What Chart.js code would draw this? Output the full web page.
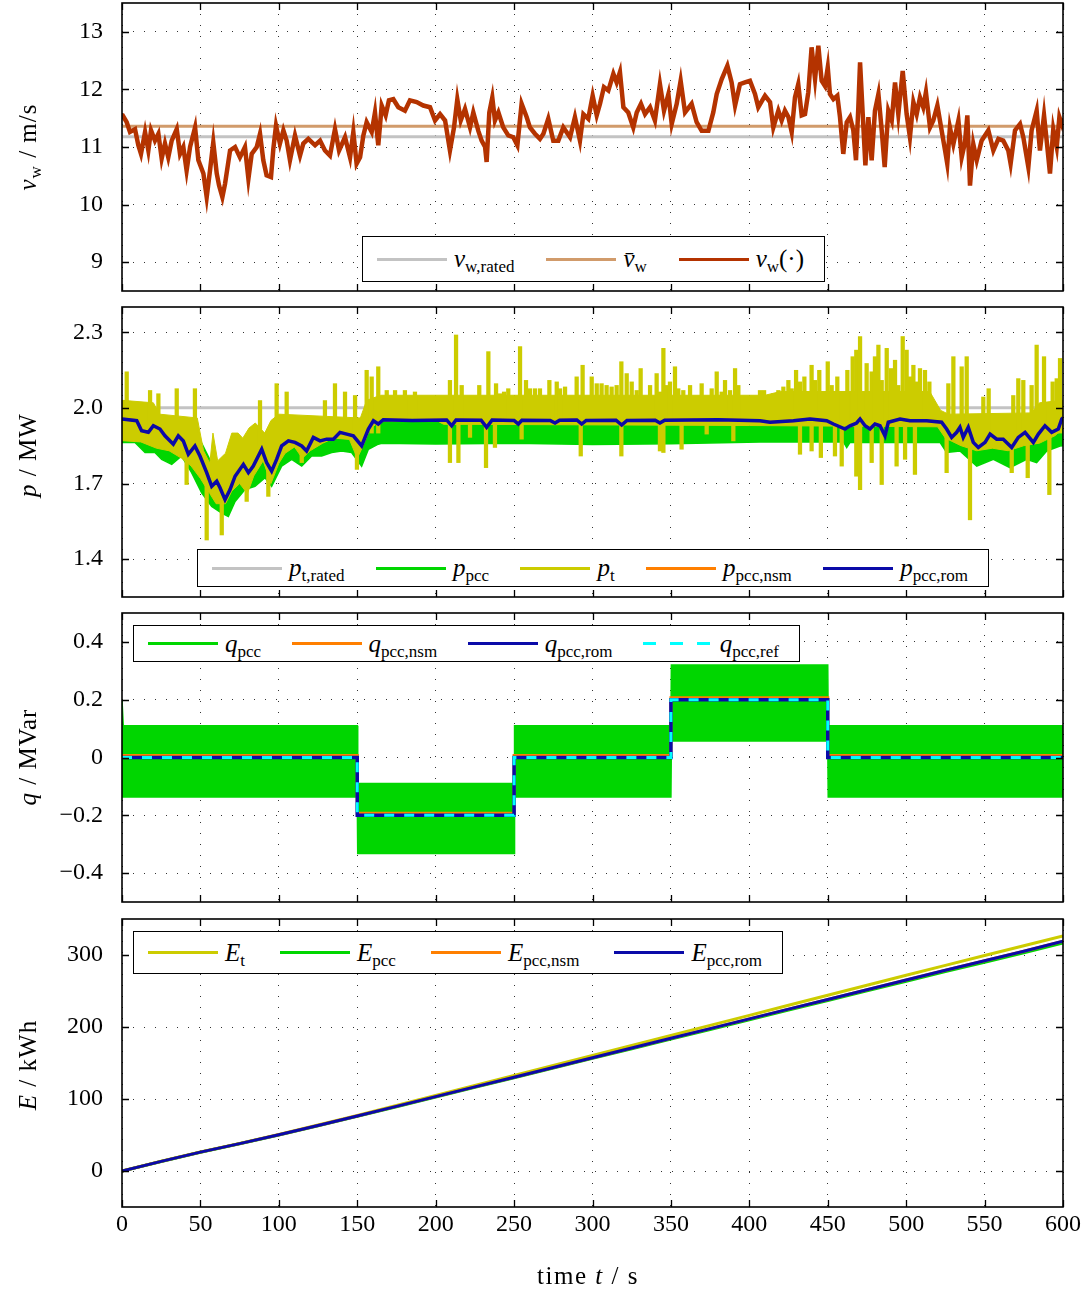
<!DOCTYPE html>
<html>
<head>
<meta charset="utf-8">
<title>Wind turbine and PCC time series</title>
<script src="https://cdn.jsdelivr.net/npm/chart.js@4.4.1/dist/chart.umd.min.js"></script>
<style>
  body { margin: 0; background: #fff; }
  #page { position: relative; width: 1089px; height: 1293px; overflow: hidden; font-family: 'Liberation Serif', 'DejaVu Serif', serif; color: #000; }
  .panel { position: absolute; left: 0; width: 1089px; }
  .panel canvas { display: block; }
  .ytitle { position: absolute; white-space: nowrap; font-size: 25px; letter-spacing: 1px; transform: translate(-50%, -50%) rotate(-90deg); }
  .xtitle { position: absolute; white-space: nowrap; font-size: 25px; letter-spacing: 1.5px; transform: translate(-50%, -50%); }
  .legend { position: absolute; display: flex; align-items: center; justify-content: space-between; border: 1.5px solid #000; background: #fff; padding: 0 20px 0 14px; box-sizing: border-box; }
  .legend .item { display: flex; align-items: center; }
  .legend .swatch { display: inline-block; width: 70px; height: 3px; margin-right: 7px; }
  .legend .lbl { font-size: 25px; white-space: nowrap; }
  sub { font-size: 17px; vertical-align: -5px; line-height: 0; font-style: normal; }
</style>
</head>
<body>
<div id="page">
  <div class="panel" style="top:0px"><canvas id="cv" width="1089" height="300"></canvas></div>
  <div class="panel" style="top:300px"><canvas id="cp" width="1089" height="305"></canvas></div>
  <div class="panel" style="top:605px"><canvas id="cq" width="1089" height="305"></canvas></div>
  <div class="panel" style="top:910px"><canvas id="ce" width="1089" height="383"></canvas></div>

  <div class="ytitle" style="left:28px;top:147px"><i>v</i><sub>w</sub> / m/s</div>
  <div class="ytitle" style="left:28px;top:455px"><i>p</i> / MW</div>
  <div class="ytitle" style="left:28px;top:757px"><i>q</i> / MVar</div>
  <div class="ytitle" style="left:28px;top:1065px"><i>E</i> / kWh</div>
  <div class="xtitle" style="left:588px;top:1276px">time <i>t</i> / s</div>

  <div class="legend" id="lv" style="left:362px;top:236px;width:463px;height:46px"></div>
  <div class="legend" id="lp" style="left:197px;top:549px;width:792px;height:38px"></div>
  <div class="legend" id="lq" style="left:133px;top:625px;width:667px;height:37px"></div>
  <div class="legend" id="le" style="left:133px;top:931px;width:650px;height:43px"></div>
</div>

<script>
// ---- axis ticks ----
const timeTicks = [0, 50, 100, 150, 200, 250, 300, 350, 400, 450, 500, 550, 600];
const vwTicks = [9, 10, 11, 12, 13];
const pTicks = [1.4, 1.7, 2.0, 2.3];
const qTicks = [-0.4, -0.2, 0, 0.2, 0.4];
const eTicks = [0, 100, 200, 300];

// ---- wind speed (m/s) ----
const spanTime = [0, 600];
const windRated = [11.18, 11.18];
const windMean = [11.36, 11.36];
const windTime = [
  0, 3.0, 5.1, 8.3, 10.4, 12.1, 14.7, 16.8, 18.5, 21.0,
  23.2, 25.3, 27.4, 29.5, 31.7, 34.9, 37.0, 39.1, 41.2, 43.4,
  46.6, 48.7, 51.9, 54.0, 56.1, 58.2, 60.4, 61.9, 64.0, 65.7,
  68.9, 72.1, 75.2, 78.4, 80.6, 82.7, 85.9, 88.0, 90.1, 92.2,
  95.0, 96.5, 98.2, 100.7, 102.9, 105.0, 107.1, 110.3, 113.5, 115.6,
  118.8, 123.1, 126.3, 129.4, 132.6, 135.8, 138.4, 142.2, 145.4, 147.5,
  149.6, 151.8, 153.9, 156.0, 159.2, 161.3, 163.4, 165.6, 168.1, 170.2,
  173.0, 176.2, 180.4, 183.6, 187.9, 192.1, 196.4, 199.6, 202.8, 206.0,
  209.1, 211.7, 213.8, 216.0, 218.7, 221.9, 224.0, 227.2, 229.3, 231.5,
  232.5, 234.2, 236.1, 237.8, 240.0, 243.1, 246.3, 249.5, 252.1, 254.8,
  258.0, 260.1, 263.3, 266.5, 268.7, 271.8, 275.0, 278.2, 281.4, 285.7,
  288.8, 292.0, 294.2, 297.3, 300.1, 302.7, 304.8, 307.3, 310.1, 313.3,
  315.4, 317.5, 319.7, 322.8, 326.0, 328.2, 330.9, 333.5, 336.7, 339.8,
  343.0, 345.6, 348.4, 350.5, 353.7, 356.2, 359.0, 363.2, 366.4, 369.6,
  373.9, 377.0, 379.2, 382.4, 386.0, 388.7, 390.9, 394.0, 397.2, 400.4,
  403.6, 405.7, 410.0, 413.2, 415.3, 418.5, 420.6, 422.7, 424.9, 427.0,
  429.1, 431.2, 433.4, 435.5, 437.6, 439.7, 441.9, 444.0, 446.1, 448.2,
  450.0, 451.4, 453.6, 456.1, 457.8, 459.9, 462.1, 464.2, 466.3, 468.0,
  469.5, 470.6, 472.3, 474.0, 475.9, 478.0, 480.1, 482.3, 484.4, 486.3,
  488.6, 490.8, 492.9, 495.0, 497.8, 500.3, 502.4, 504.6, 506.7, 508.8,
  510.9, 512.6, 515.2, 517.3, 519.9, 522.6, 524.8, 526.2, 527.9, 530.1,
  533.3, 535.4, 537.5, 539.0, 540.7, 542.8, 545.0, 548.1, 552.4, 555.6,
  558.8, 561.9, 565.1, 566.6, 569.4, 572.6, 574.7, 577.9, 580.0, 583.2,
  585.3, 587.9, 589.6, 591.7, 593.8, 596.0, 597.7, 599.2, 600
];
const windSpeed = [
  11.57, 11.43, 11.26, 11.31, 11.03, 10.88, 11.26, 10.94, 11.29, 11.11,
  11.23, 10.80, 11.06, 10.82, 11.11, 11.31, 10.88, 11.00, 10.59, 11.00,
  11.34, 10.77, 10.54, 10.13, 10.59, 11.08, 10.54, 10.33, 10.13, 10.36,
  10.94, 11.00, 10.82, 11.00, 10.45, 10.88, 11.00, 11.23, 10.77, 10.51,
  10.48, 10.97, 11.37, 11.06, 11.29, 11.11, 10.77, 11.20, 10.85, 11.06,
  11.14, 11.03, 11.11, 10.94, 10.85, 11.31, 10.94, 11.17, 10.82, 11.26,
  10.71, 10.82, 11.20, 11.43, 11.26, 11.60, 11.03, 11.72, 11.55, 11.81,
  11.83, 11.69, 11.63, 11.81, 11.78, 11.72, 11.69, 11.46, 11.57, 11.46,
  10.94, 11.34, 11.83, 11.46, 11.66, 11.34, 11.60, 11.28, 11.11, 11.00,
  10.74, 11.60, 11.86, 11.46, 11.60, 11.34, 11.20, 11.17, 11.03, 11.75,
  11.52, 11.34, 11.23, 11.14, 11.23, 11.49, 11.11, 11.11, 11.34, 11.17,
  11.52, 11.11, 11.57, 11.49, 11.89, 11.55, 11.75, 12.04, 11.98, 12.27,
  12.12, 12.30, 11.69, 11.60, 11.34, 11.60, 11.75, 11.57, 11.69, 11.46,
  12.09, 11.63, 11.92, 11.40, 11.75, 12.15, 11.60, 11.75, 11.43, 11.28,
  11.28, 11.60, 11.92, 12.18, 12.41, 12.12, 11.72, 12.09, 12.12, 12.15,
  11.92, 11.69, 11.89, 11.78, 11.34, 11.63, 11.46, 11.63, 11.52, 11.26,
  11.86, 12.09, 11.55, 11.57, 11.95, 12.73, 12.18, 12.76, 12.15, 12.06,
  12.38, 11.92, 11.83, 11.89, 11.52, 10.88, 11.43, 11.52, 11.29, 10.77,
  11.69, 12.47, 11.57, 10.68, 11.52, 10.77, 11.63, 11.92, 11.29, 10.65,
  11.63, 11.46, 12.12, 11.57, 12.32, 11.57, 11.17, 11.78, 11.57, 11.86,
  11.69, 11.95, 11.34, 11.46, 11.72, 11.29, 10.94, 10.71, 11.34, 11.05,
  11.46, 10.82, 11.08, 11.55, 10.33, 11.05, 10.77, 11.11, 11.29, 10.94,
  11.14, 11.11, 10.94, 10.71, 11.29, 11.40, 11.17, 10.65, 11.29, 11.63,
  10.94, 11.55, 11.11, 10.54, 11.31, 11.00, 11.52, 11.40, 11.5
];

// ---- active power (MW) ----
const pRated = [2.0, 2.0];
const pRomTime = [
  0, 9.4, 12.5, 16.8, 20.0, 24.2, 27.4, 32.7, 35.9, 39.1,
  42.3, 46.5, 49.7, 54.0, 57.2, 60.4, 62.5, 65.7, 68.9, 72.1,
  77.4, 80.6, 83.7, 89.1, 92.2, 95.4, 98.6, 101.8, 106.1, 110.3,
  114.6, 117.7, 122.0, 126.3, 130.5, 134.8, 139.0, 143.3, 147.5, 152.8,
  157.1, 160.3, 163.4, 166.6, 185, 207, 210.2, 213, 229, 232.5,
  236, 250, 252.7, 255, 273, 276.1, 279, 290, 293.1, 296,
  315, 318.6, 322, 340, 343.0, 346, 380, 406.8, 413.2, 428.1,
  438.7, 449.3, 453.6, 461.0, 464.2, 468.4, 470.6, 473.8, 476.9, 480.1,
  483.3, 486.5, 488.6, 496.1, 502.4, 513.1, 522.6, 525.8, 529.0, 532.2,
  534.3, 536.4, 539.6, 542.8, 546.0, 550.3, 553.5, 557.7, 561.9, 567.3,
  571.5, 575.8, 581.1, 584.3, 588.5, 592.8, 597.0, 599.2, 600
];
const pRom = [
  1.956, 1.949, 1.909, 1.903, 1.929, 1.916, 1.889, 1.856, 1.889, 1.869,
  1.816, 1.849, 1.809, 1.743, 1.689, 1.709, 1.683, 1.636, 1.676, 1.729,
  1.776, 1.743, 1.769, 1.836, 1.783, 1.749, 1.796, 1.849, 1.869, 1.863,
  1.849, 1.829, 1.883, 1.869, 1.876, 1.876, 1.903, 1.896, 1.889, 1.849,
  1.916, 1.949, 1.936, 1.953, 1.950, 1.952, 1.929, 1.952, 1.951, 1.923,
  1.952, 1.950, 1.936, 1.951, 1.950, 1.940, 1.951, 1.952, 1.936, 1.950,
  1.951, 1.932, 1.950, 1.951, 1.940, 1.951, 1.953, 1.949, 1.943, 1.949,
  1.956, 1.949, 1.936, 1.916, 1.929, 1.940, 1.956, 1.929, 1.916, 1.936,
  1.929, 1.889, 1.943, 1.956, 1.949, 1.949, 1.943, 1.916, 1.883, 1.903,
  1.923, 1.883, 1.923, 1.863, 1.843, 1.863, 1.896, 1.876, 1.876, 1.843,
  1.883, 1.903, 1.863, 1.896, 1.929, 1.903, 1.916, 1.956, 1.96
];
// the nsm result lies under the rom curve over the whole run
const pNsmTime = pRomTime;
const pNsm = pRom;

const pPccHiTime = [0, 10, 20, 30, 40, 50, 58, 66, 75, 85, 95, 105, 115, 125, 135, 145, 152, 160, 450, 460, 520, 530, 545, 560, 570, 585, 600];
const pPccHi = [2.0, 1.99, 1.97, 1.93, 1.93, 1.87, 1.77, 1.72, 1.81, 1.85, 1.83, 1.92, 1.92, 1.93, 1.95, 1.95, 1.92, 2.01, 2.01, 1.99, 1.99, 1.95, 1.91, 1.93, 1.91, 1.95, 1.99];
const pPccLoTime = [
  0, 8.3, 14.7, 21.0, 25.3, 31.7, 38.0, 44.4, 50.8, 57.2,
  63.6, 67.8, 72.1, 78.4, 84.8, 91.2, 95.4, 101.8, 108.2, 114.6,
  120.9, 127.3, 133.7, 140.1, 146.4, 152.8, 157.1, 163.4, 165.6, 200,
  250, 300, 350, 406.8, 460, 462.1, 464.2, 521.6, 525.8, 534.3,
  545.0, 555.6, 566.2, 576.8, 583.2, 589.6, 598.1, 600
];
const pPccLo = [
  1.863, 1.863, 1.823, 1.823, 1.796, 1.776, 1.809, 1.743, 1.663, 1.609,
  1.583, 1.569, 1.629, 1.676, 1.689, 1.723, 1.689, 1.769, 1.796, 1.769,
  1.809, 1.809, 1.823, 1.829, 1.823, 1.769, 1.836, 1.856, 1.860, 1.857,
  1.860, 1.855, 1.858, 1.865, 1.865, 1.843, 1.863, 1.863, 1.823, 1.829,
  1.769, 1.796, 1.763, 1.796, 1.783, 1.829, 1.849, 1.85
];

// p_t: dense band (top / bottom edge) plus the single spikes that leave it
const ptTopTime = [0, 20, 24, 48, 52, 56, 58, 61, 66, 70, 74, 77, 81, 85, 91, 95, 100, 152, 156, 165, 410, 420, 515, 522, 527, 580, 585, 600];
const ptTop = [2.03, 2.02, 1.975, 1.96, 1.83, 1.78, 1.90, 1.79, 1.82, 1.90, 1.90, 1.88, 1.92, 1.94, 1.90, 1.95, 1.975, 1.96, 2.03, 2.05, 2.05, 2.065, 2.065, 1.99, 1.975, 1.98, 2.02, 2.03];
const ptBotTime = [
  0, 12, 22, 30, 38, 44, 50, 56, 60, 66,
  70, 75, 80, 84, 90, 95, 100, 104, 110, 115,
  120, 128, 135, 145, 150, 153, 158, 165, 200, 205,
  400, 520, 525, 535, 545, 555, 565, 575, 585, 595, 600
];
const ptBot = [
  1.87, 1.865, 1.84, 1.83, 1.80, 1.77, 1.72, 1.66, 1.62, 1.62,
  1.67, 1.70, 1.66, 1.73, 1.79, 1.70, 1.78, 1.82, 1.845, 1.80,
  1.83, 1.86, 1.88, 1.875, 1.80, 1.84, 1.915, 1.95, 1.952, 1.935,
  1.93, 1.925, 1.88, 1.85, 1.83, 1.84, 1.83, 1.85, 1.86, 1.89, 1.92
];
const ptSpikeTime = [
  3.0, 17.9, 23.2, 34.9, 41.2, 46.5, 54.0, 63.6, 79.5, 88.0,
  93.3, 98.6, 105.0, 114.6, 129.4, 135.8, 142.2, 148.6, 149.8, 156.0,
  159.2, 163.4, 168.8, 174.1, 180.4, 186.8, 209.1, 213.0, 214.5, 216.6,
  221.9, 227.8, 232.1, 233.6, 237.8, 238.5, 241.0, 243.6, 246.3, 253.8,
  254.8, 257.6, 260.1, 263.3, 266.5, 272.5, 277.2, 279.3, 282.5, 289.9,
  292.5, 293.7, 299.5, 302.7, 305.8, 309.0, 312.2, 315.4, 318.4, 321.8,
  325.0, 328.2, 330.7, 336.7, 340.9, 343.0, 345.2, 347.3, 349.4, 352.6,
  354.7, 356.8, 357.9, 362.2, 369.6, 372.8, 376.0, 379.2, 382.4, 384.5,
  387.7, 389.8, 390.9, 393.0, 406.8, 409.4, 415.3, 418.5, 421.7, 424.9,
  427.0, 429.8, 432.3, 435.1, 439.7, 441.9, 444.6, 445.6, 450.0, 452.5,
  454.6, 456.1, 458.9, 462.5, 465.9, 468.2, 470.6, 474.8, 478.0, 480.1,
  482.3, 484.4, 487.6, 490.3, 492.9, 493.9, 495.0, 497.8, 499.3, 500.3,
  502.4, 504.6, 505.6, 506.7, 508.8, 512.0, 514.8, 525.8, 526.9, 530.1,
  535.4, 538.6, 540.7, 549.2, 552.6, 567.3, 568.3, 571.5, 574.7, 577.5,
  580.0, 583.2, 587.9, 591.3, 593.4, 596.0, 598.1
];
const ptSpikeLo = [
  1.90, 1.90, 1.90, 1.90, 1.696, 1.90, 1.476, 1.496, 1.629, 1.85,
  1.649, 1.90, 1.90, 1.783, 1.90, 1.90, 1.90, 1.90, 1.756, 1.90,
  1.90, 1.90, 1.95, 1.95, 1.95, 1.95, 1.783, 1.95, 1.783, 1.95,
  1.883, 1.95, 1.763, 1.95, 1.843, 1.95, 1.95, 1.95, 1.95, 1.95,
  1.876, 1.95, 1.95, 1.95, 1.95, 1.95, 1.95, 1.95, 1.95, 1.95,
  1.809, 1.95, 1.95, 1.95, 1.95, 1.95, 1.95, 1.95, 1.809, 1.95,
  1.95, 1.95, 1.95, 1.95, 1.95, 1.829, 1.823, 1.95, 1.95, 1.95,
  1.95, 1.836, 1.95, 1.95, 1.95, 1.896, 1.95, 1.95, 1.95, 1.95,
  1.95, 1.869, 1.95, 1.95, 1.95, 1.95, 1.95, 1.95, 1.95, 1.95,
  1.95, 1.95, 1.816, 1.95, 1.829, 1.95, 1.95, 1.803, 1.95, 1.95,
  1.809, 1.95, 1.769, 1.95, 1.95, 1.729, 1.676, 1.95, 1.783, 1.95,
  1.95, 1.696, 1.95, 1.95, 1.95, 1.769, 1.95, 1.95, 1.796, 1.95,
  1.95, 1.95, 1.736, 1.95, 1.95, 1.95, 1.95, 1.743, 1.90, 1.90,
  1.90, 1.90, 1.556, 1.90, 1.90, 1.743, 1.90, 1.90, 1.90, 1.723,
  1.90, 1.90, 1.90, 1.656, 1.90, 1.90, 1.90
];
const ptSpikeHi = [
  2.143, 2.069, 2.056, 2.076, 1.85, 2.076, 1.75, 1.70, 1.80, 2.029,
  1.80, 2.096, 2.063, 1.90, 2.029, 2.096, 2.063, 2.049, 1.90, 2.149,
  2.123, 2.163, 2.069, 2.069, 2.069, 2.063, 2.109, 2.289, 1.95, 2.089,
  1.95, 2.089, 1.95, 2.223, 1.95, 2.096, 2.056, 2.063, 2.076, 2.243,
  1.95, 2.109, 2.076, 2.076, 2.076, 2.109, 2.103, 2.076, 2.083, 2.123,
  1.95, 2.169, 2.123, 2.096, 2.096, 2.089, 2.083, 2.089, 2.183, 2.136,
  2.103, 2.069, 2.156, 2.089, 2.136, 2.063, 2.236, 2.089, 2.103, 2.163,
  2.076, 1.95, 2.069, 2.089, 2.096, 1.95, 2.076, 2.143, 2.063, 2.109,
  2.069, 1.95, 2.156, 2.089, 2.069, 2.069, 2.056, 2.069, 2.083, 2.109,
  2.076, 2.149, 2.103, 2.123, 2.169, 2.109, 2.149, 1.95, 2.183, 2.089,
  1.95, 2.123, 1.95, 2.149, 2.203, 2.229, 2.283, 2.176, 2.143, 2.203,
  2.249, 2.109, 2.236, 2.156, 2.189, 1.95, 2.089, 2.283, 1.95, 2.229,
  2.123, 2.169, 1.95, 2.103, 2.156, 2.149, 2.103, 1.90, 2.096, 2.203,
  2.163, 2.203, 1.90, 2.043, 2.076, 1.90, 2.049, 2.116, 2.109, 1.90,
  2.089, 2.249, 2.203, 1.90, 2.103, 2.116, 2.196
];

// ---- reactive power (MVar) ----
const qStepTime = [0, 150, 250, 350, 450, 600];
const qRef = [0, -0.2, 0, 0.2, 0, 0];
const qRom = [0, -0.2, 0, 0.2, 0, 0];
const qNsm = [0.007, -0.193, 0.007, 0.207, 0.007, 0.007];
const qBandTime = [0, 0.8, 150, 150.3, 250, 250.3, 350, 350.3, 450, 450.3, 600];
const qPccHi = [0.2, 0.11, 0.11, -0.09, -0.09, 0.11, 0.11, 0.32, 0.32, 0.11, 0.11];
const qPccLo = [-0.137, -0.137, -0.137, -0.332, -0.332, -0.137, -0.137, 0.057, 0.057, -0.137, -0.137];

// ---- energy (kWh) ----
const eTime = [0, 25, 50, 75, 100, 125, 150, 175, 200, 225, 250, 275, 300, 325, 350, 375, 400, 425, 450, 475, 500, 525, 550, 575, 600];
const eT = [0, 13.6, 26.5, 38.2, 50.8, 63.9, 77.2, 91.1, 105.0, 118.9, 132.8, 146.7, 160.6, 174.5, 188.4, 202.3, 216.2, 230.1, 244.0, 257.9, 271.8, 285.6, 299.2, 312.8, 326.5];
const ePcc = [0, 13.3, 26.1, 37.8, 50.1, 62.9, 75.9, 89.3, 102.7, 116.2, 129.6, 143.0, 156.4, 169.8, 183.2, 196.6, 210.0, 223.4, 236.8, 250.2, 263.6, 277.0, 290.0, 303.1, 316.9];
const eNsm = [0, 13.4, 26.2, 38.0, 50.4, 63.2, 76.3, 89.8, 103.3, 116.8, 130.3, 143.8, 157.3, 170.8, 184.3, 197.8, 211.3, 224.8, 238.3, 251.8, 265.3, 278.8, 291.9, 305.1, 319.1];
const eRom = [0, 13.4, 26.2, 38.0, 50.4, 63.2, 76.3, 89.8, 103.3, 116.8, 130.3, 143.8, 157.3, 170.8, 184.3, 197.8, 211.3, 224.8, 238.3, 251.8, 265.3, 278.8, 291.9, 305.1, 319.0];

const COL = {
  gray: '#c3c3c3', tan: '#d19b6b', rust: '#b43300', green: '#00d600',
  yellow: '#cccc00', orange: '#ff7f00', blue: '#0a0aa8', cyan: '#00ffff'
};

const pts = (xs, ys) => xs.map((x, i) => ({ x, y: ys[i] }));

function line(label, xs, ys, color, width, order, extra) {
  return Object.assign({
    label, data: pts(xs, ys), borderColor: color, backgroundColor: color,
    borderWidth: width, pointRadius: 0, fill: false, order
  }, extra || {});
}

// frame and inward tick marks, drawn over the data like pgfplots
const innerFrame = {
  id: 'innerFrame',
  afterDatasetsDraw(chart) {
    const { ctx, chartArea: a } = chart;
    const sx = chart.scales.x, sy = chart.scales.y;
    const len = 7;
    ctx.save();
    ctx.strokeStyle = '#000';
    ctx.lineWidth = 1.3;
    ctx.beginPath();
    sx.ticks.forEach(t => {
      const px = Math.round(sx.getPixelForValue(t.value)) + 0.5;
      ctx.moveTo(px, a.top); ctx.lineTo(px, a.top + len);
      ctx.moveTo(px, a.bottom); ctx.lineTo(px, a.bottom - len);
    });
    sy.ticks.forEach(t => {
      const py = Math.round(sy.getPixelForValue(t.value)) + 0.5;
      ctx.moveTo(a.left, py); ctx.lineTo(a.left + len, py);
      ctx.moveTo(a.right, py); ctx.lineTo(a.right - len, py);
    });
    ctx.stroke();
    ctx.lineWidth = 1.6;
    ctx.strokeRect(a.left, a.top, a.right - a.left, a.bottom - a.top);
    ctx.restore();
  }
};

const tickFont = { family: 'Liberation Serif', size: 24 };
const borderOpts = { display: false, dash: [1, 10] };

function makeChart(id, datasets, cfg) {
  return new Chart(document.getElementById(id), {
    type: 'line',
    data: { datasets },
    options: {
      responsive: false,
      animation: false,
      events: [],
      layout: { padding: cfg.padding },
      elements: { line: { tension: 0 } },
      plugins: { legend: { display: false }, tooltip: { enabled: false } },
      scales: {
        x: {
          type: 'linear', min: 0, max: 600, offset: false,
          afterBuildTicks: s => { s.ticks = timeTicks.map(value => ({ value })); },
          afterFit: s => { s.height = cfg.xHeight; s.paddingLeft = 0; s.paddingRight = 0; },
          grid: { color: '#333', lineWidth: 1, drawTicks: false, offset: false },
          border: borderOpts,
          ticks: { display: cfg.xLabels, font: tickFont, color: '#000', padding: 3, autoSkip: false, maxRotation: 0 }
        },
        y: {
          type: 'linear', min: cfg.yMin, max: cfg.yMax,
          afterBuildTicks: s => { s.ticks = cfg.yTicks.map(value => ({ value })); },
          afterFit: s => { s.width = 122; s.paddingTop = 0; s.paddingBottom = 0; },
          grid: { color: '#333', lineWidth: 1, drawTicks: false },
          border: borderOpts,
          ticks: { font: tickFont, color: '#000', padding: 19, callback: cfg.yFormat }
        }
      }
    },
    plugins: [innerFrame]
  });
}

function mathLabel(s) {
  const m = s.match(/^(.*?)_\{(.*?)\}(.*)$/);
  if (!m) return '<i>' + s + '</i>';
  return '<i>' + m[1] + '</i><sub>' + m[2] + '</sub>' + m[3];
}

function buildLegend(chart, boxId) {
  const box = document.getElementById(boxId);
  chart.data.datasets.forEach(ds => {
    if (ds.label.startsWith('_')) return;
    const item = document.createElement('div');
    item.className = 'item';
    const sw = document.createElement('span');
    sw.className = 'swatch';
    sw.style.background = ds.borderDash
      ? 'repeating-linear-gradient(90deg, ' + ds.borderColor + ' 0 13px, transparent 13px 27px)'
      : ds.borderColor;
    const lbl = document.createElement('span');
    lbl.className = 'lbl';
    lbl.innerHTML = mathLabel(ds.label);
    item.append(sw, lbl);
    box.appendChild(item);
  });
}

// ---- panel 1: wind speed ----
const chartV = makeChart('cv', [
  line('v_{w,rated}', spanTime, windRated, COL.gray, 3, 3),
  line('v̄_{w}', spanTime, windMean, COL.tan, 3, 2),
  line('v_{w}(·)', windTime, windSpeed, COL.rust, 4.5, 1)
], { padding: { left: 0, right: 26, top: 3, bottom: 9 }, xHeight: 0, xLabels: false,
     yMin: 8.5, yMax: 13.5, yTicks: vwTicks, yFormat: v => String(v) });
buildLegend(chartV, 'lv');

// ---- panel 2: active power ----
const chartP = makeChart('cp', [
  line('p_{t,rated}', spanTime, pRated, COL.gray, 3, 10),
  line('p_{pcc}', pPccHiTime, pPccHi, COL.green, 1.5, 9, { fill: '+1' }),
  line('_p_pcc_lo', pPccLoTime, pPccLo, COL.green, 1.5, 8),
  line('p_{t}', ptTopTime, ptTop, COL.yellow, 1, 7, { fill: '+1' }),
  line('_p_t_bottom', ptBotTime, ptBot, COL.yellow, 1, 6),
  {
    type: 'bar', label: '_p_t_spikes', order: 5,
    data: ptSpikeTime.map((x, i) => ({ x, y: [ptSpikeLo[i], ptSpikeHi[i]] })),
    backgroundColor: COL.yellow, borderWidth: 0, barThickness: 3.6, grouped: false
  },
  line('p_{pcc,nsm}', pNsmTime, pNsm, COL.orange, 3, 4),
  line('p_{pcc,rom}', pRomTime, pRom, COL.blue, 3.5, 3)
], { padding: { left: 0, right: 26, top: 7, bottom: 8 }, xHeight: 0, xLabels: false,
     yMin: 1.25, yMax: 2.4, yTicks: pTicks, yFormat: v => v.toFixed(1) });
buildLegend(chartP, 'lp');

// ---- panel 3: reactive power ----
const chartQ = makeChart('cq', [
  line('q_{pcc}', qBandTime, qPccHi, COL.green, 1.5, 10, { fill: '+1' }),
  line('_q_pcc_lo', qBandTime, qPccLo, COL.green, 1.5, 9),
  line('q_{pcc,nsm}', qStepTime, qNsm, COL.orange, 3, 8, { stepped: 'before' }),
  line('q_{pcc,rom}', qStepTime, qRom, COL.blue, 3.5, 7, { stepped: 'before' }),
  line('q_{pcc,ref}', qStepTime, qRef, COL.cyan, 3, 6, { stepped: 'before', borderDash: [10, 10] })
], { padding: { left: 0, right: 26, top: 8, bottom: 8 }, xHeight: 0, xLabels: false,
     yMin: -0.5, yMax: 0.5, yTicks: qTicks,
     yFormat: v => v === 0 ? '0' : (v < 0 ? '\u2212' : '') + Math.abs(v).toFixed(1) });
buildLegend(chartQ, 'lq');

// ---- panel 4: energy ----
const chartE = makeChart('ce', [
  line('E_{t}', eTime, eT, COL.yellow, 3, 4),
  line('E_{pcc}', eTime, ePcc, COL.green, 3, 3),
  line('E_{pcc,nsm}', eTime, eNsm, COL.orange, 3, 2),
  line('E_{pcc,rom}', eTime, eRom, COL.blue, 3, 1)
], { padding: { left: 0, right: 26, top: 9, bottom: 0 }, xHeight: 86, xLabels: true,
     yMin: -50, yMax: 350, yTicks: eTicks, yFormat: v => String(v) });
buildLegend(chartE, 'le');
</script>
</body>
</html>
